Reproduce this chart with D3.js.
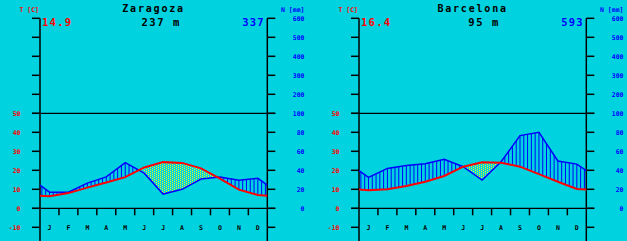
<!DOCTYPE html>
<html>
<head>
<meta charset="utf-8">
<script src="https://cdn.jsdelivr.net/npm/d3@7"></script>
<style>
  body { margin: 0; background: #00d3df; }
  svg { display: block; }
  text { font-family: "DejaVu Sans Mono", monospace; font-weight: bold; }
</style>
</head>
<body>
<div id="chart"></div>
<script>
// monthly climate values
const months = ["J", "F", "M", "A", "M", "J", "J", "A", "S", "O", "N", "D"];
const stationNames = ["Zaragoza", "Barcelona"];
const altitudes = ["237 m", "95 m"];
const meanTemps = ["14.9", "16.4"];
const annualPrec = ["337", "593"];

const tempZaragoza = [6.3, 8.0, 10.9, 13.6, 16.4, 21.5, 24.3, 23.9, 21.0, 15.6, 9.8, 7.0];
const precZaragoza = [17, 17, 26.5, 33, 48, 37, 15, 20, 30.8, 33, 29.5, 31.6];
const tempBarcelona = [9.5, 10.0, 11.7, 14.0, 17.0, 21.9, 24.2, 24.0, 21.9, 18.0, 14.0, 10.2];
const precBarcelona = [32.6, 42, 45, 47, 51.6, 43.8, 29.8, 49, 76.5, 80, 49.8, 46.5];

const tempTicks = [50, 40, 30, 20, 10, 0, -10];
const precTicks = [600, 500, 400, 300, 200, 100, 80, 60, 40, 20, 0];

const W = 627, H = 241;

const svg = d3.select("#chart").append("svg")
  .attr("width", W)
  .attr("height", H);

svg.append("rect").attr("width", W).attr("height", H).attr("fill", "#00d3df");

// dotted fill for the dry season
const pat = svg.append("defs").append("pattern")
  .attr("id", "dots")
  .attr("patternUnits", "userSpaceOnUse")
  .attr("width", 4).attr("height", 2);
pat.append("rect").attr("x", 0).attr("y", 0).attr("width", 1).attr("height", 1).attr("fill", "#ffff00");
pat.append("rect").attr("x", 2).attr("y", 1).attr("width", 1).attr("height", 1).attr("fill", "#ffff00");

// scales (month units along x, 10 C = 20 mm below 100 mm)
const x = d3.scaleLinear().domain([0, 12]).range([40, 267.3]);
const yT = d3.scaleLinear().domain([-10, 50]).range([227.3, 113.3]);
const yP = d3.scaleLinear().domain([0, 100, 600]).range([208.3, 113.3, 18.3]);

// linear curve through mid-month values, edges = mean of Dec and Jan
function monthly(vals) {
  const edge = (vals[0] + vals[11]) / 2;
  return d3.scaleLinear()
    .domain([0, ...d3.range(12).map(i => i + 0.5), 12])
    .range([edge, ...vals, edge]);
}

function drawPanel(i, temp, prec, dx) {
  const g = svg.append("g").attr("transform", `translate(${dx},0)`);
  const ft = monthly(temp), fp = monthly(prec);
  const knots = ft.domain();

  // humid season: vertical hatching
  const hatch = d3.range(60).map(k => (k + 0.5) * 0.2)
    .filter(m => yP(fp(m)) < yT(ft(m)));
  g.append("g").selectAll("line")
    .data(hatch)
    .join("line")
    .attr("x1", m => x(m)).attr("x2", m => x(m))
    .attr("y1", m => yP(fp(m))).attr("y2", m => yT(ft(m)))
    .attr("stroke", "#0000ff")
    .attr("stroke-width", 1);

  // dry season: dotted area
  const samples = d3.range(0, 12.0001, 0.02);
  g.append("path")
    .datum(samples)
    .attr("fill", "url(#dots)")
    .attr("d", d3.area()
      .x(m => x(m))
      .y0(m => yT(ft(m)))
      .y1(m => Math.max(yT(ft(m)), yP(fp(m)))));

  // axes
  const ax = g.append("g").attr("stroke", "#000").attr("stroke-width", 1.5);
  [x(0), x(12)].forEach(px => {
    ax.append("line").attr("x1", px).attr("x2", px).attr("y1", yP(600)).attr("y2", H);
  });
  const tickYs = precTicks.filter(v => v > 100).map(v => yP(v))
    .concat(tempTicks.map(v => yT(v)));
  ax.selectAll(".tl").data(tickYs).join("line")
    .attr("x1", x(0) - 8).attr("x2", x(0))
    .attr("y1", d => d).attr("y2", d => d);
  ax.selectAll(".tr").data(tickYs).join("line")
    .attr("x1", x(12)).attr("x2", x(12) + 8)
    .attr("y1", d => d).attr("y2", d => d);
  [50, 0].forEach(v => {
    ax.append("line")
      .attr("x1", x(0) - 8).attr("x2", x(12) + 8)
      .attr("y1", yT(v)).attr("y2", yT(v))
      .attr("stroke-width", 1.2);
  });
  ax.selectAll(".mt").data(d3.range(1, 12)).join("line")
    .attr("x1", d => x(d)).attr("x2", d => x(d))
    .attr("y1", yT(0)).attr("y2", yT(0) + 7);

  // curves
  g.append("path")
    .datum(knots)
    .attr("fill", "none")
    .attr("stroke", "#0000ff")
    .attr("stroke-width", 1.5)
    .attr("d", d3.line().x(m => x(m)).y(m => yP(fp(m))));
  g.append("path")
    .datum(knots)
    .attr("fill", "none")
    .attr("stroke", "#ff0000")
    .attr("stroke-width", 2)
    .attr("d", d3.line().x(m => x(m)).y(m => yT(ft(m))));

  // tick labels
  g.append("g").selectAll("text").data(tempTicks).join("text")
    .attr("x", 20.5).attr("y", d => yT(d) + 2.5)
    .attr("text-anchor", "end")
    .attr("font-size", 6.5)
    .attr("fill", "#ff0000")
    .text(d => d);
  g.append("g").selectAll("text").data(precTicks).join("text")
    .attr("x", 304.5).attr("y", d => yP(d) + 2.5)
    .attr("text-anchor", "end")
    .attr("font-size", 6.5)
    .attr("fill", "#0000ff")
    .text(d => d);
  g.append("g").selectAll("text").data(months).join("text")
    .attr("x", (d, j) => x(j + 0.5)).attr("y", 230)
    .attr("text-anchor", "middle")
    .attr("font-size", 6.5)
    .attr("fill", "#000")
    .text(d => d);

  // headers
  g.append("text").attr("x", 39).attr("y", 11.5)
    .attr("text-anchor", "end").attr("font-size", 6.5).attr("fill", "#ff0000")
    .text("T [C]");
  g.append("text").attr("x", 304.5).attr("y", 11.5)
    .attr("text-anchor", "end").attr("font-size", 6.5).attr("fill", "#0000ff")
    .text("N [mm]");
  g.append("text").attr("x", 153.6).attr("y", 11.7)
    .attr("text-anchor", "middle").attr("font-size", 10).attr("letter-spacing", 1.8)
    .attr("fill", "#000")
    .text(stationNames[i]);
  g.append("text").attr("x", 42).attr("y", 25.7)
    .attr("font-size", 10.5).attr("letter-spacing", 1.3).attr("fill", "#ff0000")
    .text(meanTemps[i]);
  g.append("text").attr("x", 181).attr("y", 25.7)
    .attr("text-anchor", "end").attr("font-size", 10.5).attr("letter-spacing", 1.6)
    .attr("fill", "#000")
    .text(altitudes[i]);
  g.append("text").attr("x", 265).attr("y", 25.7)
    .attr("text-anchor", "end").attr("font-size", 10.5).attr("letter-spacing", 1.3)
    .attr("fill", "#0000ff")
    .text(annualPrec[i]);
}

drawPanel(0, tempZaragoza, precZaragoza, 0);
drawPanel(1, tempBarcelona, precBarcelona, 319);
</script>
</body>
</html>
